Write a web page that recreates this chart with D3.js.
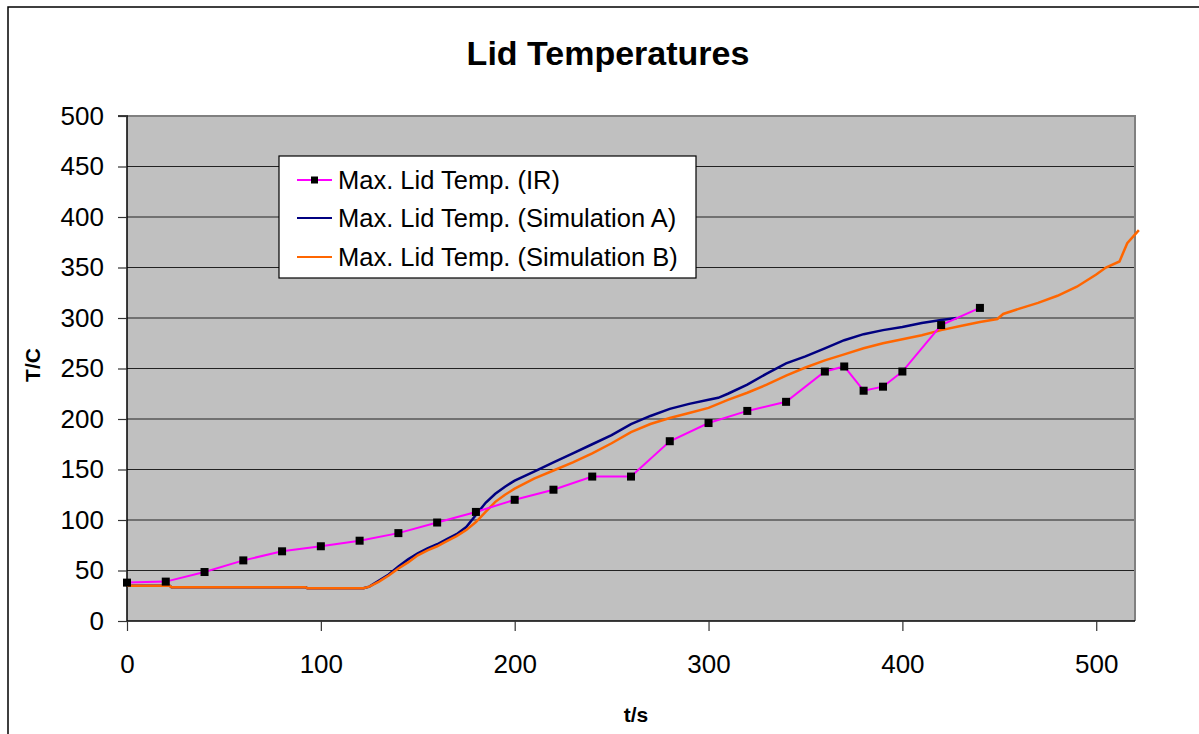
<!DOCTYPE html>
<html>
<head>
<meta charset="utf-8">
<script src="https://cdn.jsdelivr.net/npm/d3@7"></script>
<style>
html,body{margin:0;padding:0;background:#fff;}
svg{display:block;}
text{font-family:"Liberation Sans",Arial,sans-serif;}
</style>
</head>
<body>
<svg id="chart" width="1199" height="734"></svg>
<script>
// ---- data ----
const titleText = "Lid Temperatures";
const xLabel = "t/s";
const yLabel = "T/C";
const seriesNames = ["Max. Lid Temp. (IR)", "Max. Lid Temp. (Simulation A)", "Max. Lid Temp. (Simulation B)"];
const xTicks = [0, 100, 200, 300, 400, 500];
const yTicks = [0, 50, 100, 150, 200, 250, 300, 350, 400, 450, 500];

const irT = [0, 20, 40, 60, 80, 100, 120, 140, 160, 180, 200, 220, 240, 260, 280, 300, 320, 340, 360, 370, 380, 390, 400, 420, 440];
const irV = [38, 39, 48.5, 60, 69, 74, 79.5, 87, 97.5, 108, 120, 130, 143, 143, 178, 196, 208, 217, 247, 252, 228, 232, 247, 293, 310];

const simAT = [0, 22, 23, 92, 93, 122, 125, 130, 135, 140, 145, 150, 155, 160, 165, 170, 175, 180, 185, 190, 195, 200, 210, 220, 230, 240, 250, 260, 270, 280, 290, 300, 305, 310, 320, 330, 340, 350, 360, 370, 380, 390, 400, 410, 420, 428];
const simAV = [35, 35, 33.5, 33.5, 32.5, 32.5, 34, 40, 46, 54, 61, 67, 72, 76, 81, 86, 93, 105, 117, 126, 133, 139, 148, 157, 166, 175, 184, 195, 203, 210, 215, 219, 221, 225, 234, 245, 255, 262, 270, 278, 284, 288, 291, 295, 298, 300];

const simBT = [0, 22, 23, 92, 93, 122, 125, 130, 135, 140, 145, 150, 155, 160, 165, 170, 175, 180, 185, 190, 195, 200, 210, 220, 230, 240, 250, 260, 270, 280, 290, 300, 310, 320, 330, 340, 350, 360, 370, 380, 390, 400, 410, 420, 430, 440, 449, 452, 460, 470, 480, 490, 500, 505, 512, 516, 522];
const simBV = [35, 35, 33.5, 33.5, 32.5, 32.5, 34, 39, 45, 52, 58, 65, 70, 74, 79, 84, 90, 98, 108, 118, 125, 131, 141, 149, 157, 166, 176, 187, 195, 201, 206, 211, 219, 226, 234, 243, 251, 258, 264, 270, 275, 279, 283, 288, 292, 296, 299, 304, 309, 315, 322, 331, 343, 350, 356, 374, 387];

// ---- layout ----
const svg = d3.select("#chart");
const L = 127, T = 116, R = 1135, B = 621;
const x = d3.scaleLinear().domain([0, 520]).range([L, R]);
const y = d3.scaleLinear().domain([0, 500]).range([B, T]);

// outer frame
svg.append("rect").attr("x", 8).attr("y", 7).attr("width", 1400).attr("height", 1000)
  .attr("fill", "none").attr("stroke", "#000").attr("stroke-width", 1.5);

// plot background
svg.append("rect").attr("x", L).attr("y", T).attr("width", R - L).attr("height", B - T)
  .attr("fill", "#C0C0C0");

// gridlines
svg.append("g").selectAll("line").data(yTicks.filter(d => d > 0 && d < 500)).join("line")
  .attr("x1", L).attr("x2", R).attr("y1", d => y(d)).attr("y2", d => y(d))
  .attr("stroke", "#222").attr("stroke-width", 1.2);

// plot border top/right
svg.append("path").attr("d", `M${L},${T}H${R}V${B}`).attr("fill", "none")
  .attr("stroke", "#808080").attr("stroke-width", 2);

// axes
const yAxis = d3.axisLeft(y).tickValues(yTicks).tickSize(9).tickPadding(14);
const gy = svg.append("g").attr("transform", `translate(${L},0)`).call(yAxis);
const xAxis = d3.axisBottom(x).tickValues(xTicks).tickSize(10).tickPadding(24);
const gx = svg.append("g").attr("transform", `translate(0,${B})`).call(xAxis);
[gx, gy].forEach(g => {
  g.select(".domain").attr("stroke", "#000").attr("stroke-width", 1.5);
  g.selectAll(".tick line").attr("stroke", "#333").attr("stroke-width", 1.2);
  g.selectAll(".tick text").attr("font-size", 26).attr("fill", "#000")
    .attr("font-family", "'Liberation Sans', Arial, sans-serif");
});
gy.select(".domain").attr("d", `M-9,${T}H0V${B}`);
gx.select(".domain").attr("d", `M${L},0H${R}`);

// lines
const line = d3.line().x(d => x(d[0])).y(d => y(d[1]));
const zip = (a, b) => a.map((v, i) => [v, b[i]]);
const dataIR = zip(irT, irV), dataA = zip(simAT, simAV), dataB = zip(simBT, simBV);

svg.append("path").datum(dataA).attr("d", line).attr("fill", "none")
  .attr("stroke", "#000080").attr("stroke-width", 2.5);
svg.append("path").datum(dataB).attr("d", line).attr("fill", "none")
  .attr("stroke", "#FF6600").attr("stroke-width", 2.5);
svg.append("path").datum(dataIR).attr("d", line).attr("fill", "none")
  .attr("stroke", "#FF00FF").attr("stroke-width", 2);
svg.append("g").selectAll("rect").data(dataIR).join("rect")
  .attr("x", d => x(d[0]) - 4).attr("y", d => y(d[1]) - 4)
  .attr("width", 8).attr("height", 8).attr("fill", "#000");

// title
svg.append("text").attr("x", 608).attr("y", 65).attr("text-anchor", "middle")
  .attr("font-size", 34).attr("font-weight", "bold").text(titleText);
svg.append("text").attr("x", 636).attr("y", 722).attr("text-anchor", "middle")
  .attr("font-size", 21).attr("font-weight", "bold").text(xLabel);
svg.append("text").attr("transform", "translate(40,365) rotate(-90)").attr("text-anchor", "middle")
  .attr("font-size", 21).attr("font-weight", "bold").text(yLabel);

// legend
const lg = svg.append("g");
lg.append("rect").attr("x", 279).attr("y", 156).attr("width", 417).attr("height", 122)
  .attr("fill", "#fff").attr("stroke", "#000").attr("stroke-width", 1.2);
const colors = ["#FF00FF", "#000080", "#FF6600"];
const rows = [180, 218, 257];
seriesNames.forEach((n, i) => {
  lg.append("line").attr("x1", 297).attr("x2", 332).attr("y1", rows[i]).attr("y2", rows[i])
    .attr("stroke", colors[i]).attr("stroke-width", 2);
  if (i === 0) lg.append("rect").attr("x", 311).attr("y", rows[i] - 3.5).attr("width", 7).attr("height", 7).attr("fill", "#000");
  lg.append("text").attr("x", 338).attr("y", rows[i]).attr("dy", "0.35em")
    .attr("font-size", 25.5).text(n);
});
</script>
</body>
</html>
